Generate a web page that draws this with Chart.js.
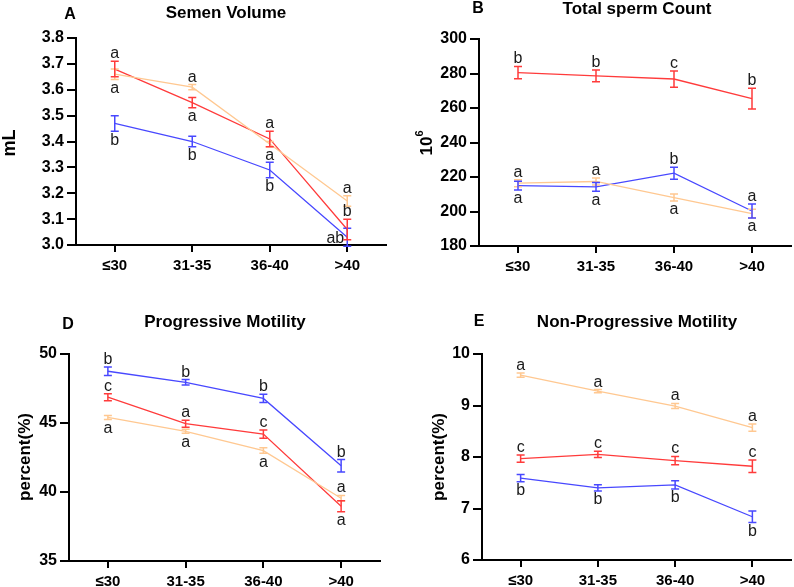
<!DOCTYPE html>
<html>
<head>
<meta charset="utf-8">
<script src="https://cdn.jsdelivr.net/npm/chart.js@4.4.0/dist/chart.umd.min.js"></script>
<style>
  body { margin: 0; background: #fff; }
  #wrap { position: relative; width: 794px; height: 587px; }
  canvas { position: absolute; }
</style>
</head>
<body>
<div id="wrap">
  <canvas id="chartA" width="397" height="293" style="left:0;top:0"></canvas>
  <canvas id="chartB" width="397" height="293" style="left:397px;top:0"></canvas>
  <canvas id="chartD" width="397" height="294" style="left:0;top:293px"></canvas>
  <canvas id="chartE" width="397" height="294" style="left:397px;top:293px"></canvas>
</div>
<script>
// age groups on the x axis
const ageGroups = ['≤30', '31-35', '36-40', '>40'];

// A - semen volume (mL)
const volRed = [3.68, 3.55, 3.41, 3.06];
const volRedErr = [0.03, 0.02, 0.03, 0.04];
const volRedLetters = ['a', 'a', 'a', 'b'];
const volRedPos = ['t', 'b', 't', 't'];
const volOrange = [3.66, 3.61, 3.39, 3.17];
const volOrangeErr = [0.02, 0.01, 0.01, 0.02];
const volOrangeLetters = ['a', 'a', 'a', 'a'];
const volOrangePos = ['b', 't', 'b', 't'];
const volBlue = [3.47, 3.40, 3.29, 3.03];
const volBlueErr = [0.03, 0.02, 0.03, 0.035];
const volBlueLetters = ['b', 'b', 'b', 'ab'];
const volBluePos = ['b', 'b', 'b', 'l'];

// B - total sperm count (10^6)
const cntRed = [280.5, 278.6, 276.8, 265.4];
const cntRedErr = [3.6, 3.4, 4.7, 6];
const cntRedLetters = ['b', 'b', 'c', 'b'];
const cntRedPos = ['t', 't', 't', 't'];
const cntOrange = [216.4, 217.4, 208.1, 198.8];
const cntOrangeErr = [2, 2, 2, 2.5];
const cntOrangeLetters = ['a', 'a', 'a', 'a'];
const cntOrangePos = ['t', 't', 'b', 'b'];
const cntBlue = [215, 214.3, 222.2, 200.3];
const cntBlueErr = [2.5, 2.5, 3.5, 4];
const cntBlueLetters = ['a', 'a', 'b', 'a'];
const cntBluePos = ['b', 'b', 't', 't'];

// D - progressive motility (%)
const progBlue = [48.75, 47.95, 46.78, 41.9];
const progBlueErr = [0.3, 0.2, 0.3, 0.45];
const progBlueLetters = ['b', 'b', 'b', 'b'];
const progBluePos = ['t', 't', 't', 't'];
const progRed = [46.87, 44.95, 44.2, 38.97];
const progRedErr = [0.25, 0.25, 0.3, 0.4];
const progRedLetters = ['c', 'a', 'c', 'a'];
const progRedPos = ['t', 't', 't', 'b'];
const progOrange = [45.4, 44.4, 43.0, 39.55];
const progOrangeErr = [0.15, 0.15, 0.2, 0.2];
const progOrangeLetters = ['a', 'a', 'a', 'a'];
const progOrangePos = ['b', 'b', 'b', 't'];

// E - non-progressive motility (%)
const npOrange = [9.59, 9.28, 8.99, 8.57];
const npOrangeErr = [0.04, 0.03, 0.05, 0.07];
const npOrangeLetters = ['a', 'a', 'a', 'a'];
const npOrangePos = ['t', 't', 't', 't'];
const npRed = [7.97, 8.05, 7.93, 7.82];
const npRedErr = [0.07, 0.06, 0.08, 0.12];
const npRedLetters = ['c', 'c', 'c', 'c'];
const npRedPos = ['t', 't', 't', 't'];
const npBlue = [7.59, 7.40, 7.46, 6.84];
const npBlueErr = [0.07, 0.06, 0.08, 0.11];
const npBlueLetters = ['b', 'b', 'b', 'b'];
const npBluePos = ['b', 'b', 'b', 'b'];

const RED = '#FF3B3B';
const BLUE = '#4848FF';
const ORANGE = '#FFC891';
const FONT = '"Liberation Sans", Arial, Helvetica, sans-serif';

Chart.defaults.font.family = FONT;
Chart.defaults.color = '#000';

// error bars + significance letters
const errorBars = {
  id: 'errorBars',
  afterDatasetsDraw(chart) {
    const ctx = chart.ctx;
    const y = chart.scales.y;
    chart.data.datasets.forEach((ds, i) => {
      const meta = chart.getDatasetMeta(i);
      ctx.save();
      ctx.strokeStyle = ds.borderColor;
      ctx.lineWidth = 1.5;
      meta.data.forEach((pt, j) => {
        const v = ds.data[j], e = ds.errors[j];
        const top = y.getPixelForValue(v + e);
        const bot = y.getPixelForValue(v - e);
        ctx.beginPath();
        ctx.moveTo(pt.x, top); ctx.lineTo(pt.x, bot);
        ctx.moveTo(pt.x - 4, top); ctx.lineTo(pt.x + 4, top);
        ctx.moveTo(pt.x - 4, bot); ctx.lineTo(pt.x + 4, bot);
        ctx.stroke();
      });
      ctx.fillStyle = '#1a1a1a';
      ctx.font = '16px ' + FONT;
      meta.data.forEach((pt, j) => {
        const v = ds.data[j], e = ds.errors[j];
        const txt = ds.letters[j];
        const pos = ds.letterPos[j];
        if (pos === 't') {
          ctx.textAlign = 'center'; ctx.textBaseline = 'alphabetic';
          ctx.fillText(txt, pt.x, y.getPixelForValue(v + e) - 3);
        } else if (pos === 'b') {
          ctx.textAlign = 'center'; ctx.textBaseline = 'top';
          ctx.fillText(txt, pt.x, y.getPixelForValue(v - e) + 1);
        } else {
          ctx.textAlign = 'right'; ctx.textBaseline = 'middle';
          ctx.fillText(txt, pt.x - 3, pt.y + 1);
        }
      });
      ctx.restore();
    });
  }
};

// panel letter, title and y axis title
const panelText = {
  id: 'panelText',
  afterDraw(chart, args, o) {
    const ctx = chart.ctx;
    ctx.save();
    ctx.fillStyle = '#000';
    ctx.textBaseline = 'middle';
    ctx.textAlign = 'center';
    ctx.font = 'bold 16px ' + FONT;
    ctx.fillText(o.letter, o.letterX, o.letterY);
    ctx.font = 'bold 17px ' + FONT;
    ctx.fillText(o.title, o.titleX, o.titleY);
    ctx.translate(o.yTitleX, o.yTitleY);
    ctx.rotate(-Math.PI / 2);
    ctx.font = 'bold ' + (o.yTitleSize || 17) + 'px ' + FONT;
    if (o.yTitleSup) {
      const w1 = ctx.measureText(o.yTitle).width;
      ctx.font = 'bold 11px ' + FONT;
      const w2 = ctx.measureText(o.yTitleSup).width;
      const x0 = -(w1 + w2) / 2;
      ctx.textAlign = 'left';
      ctx.font = 'bold ' + (o.yTitleSize || 17) + 'px ' + FONT;
      ctx.fillText(o.yTitle, x0, 0);
      ctx.font = 'bold 11px ' + FONT;
      ctx.fillText(o.yTitleSup, x0 + w1, -7);
    } else {
      ctx.fillText(o.yTitle, 0, 0);
    }
    ctx.restore();
  }
};

function series(values, errs, letters, pos, color) {
  return {
    data: values,
    errors: errs,
    letters: letters,
    letterPos: pos,
    borderColor: color,
    backgroundColor: color,
    borderWidth: 1.3,
    pointRadius: 0,
    tension: 0
  };
}

function makePanel(id, datasets, area, yCfg, text) {
  const canvas = document.getElementById(id);
  const W = canvas.width, H = canvas.height;
  new Chart(canvas, {
    type: 'line',
    data: { labels: ageGroups, datasets: datasets },
    options: {
      responsive: false,
      animation: false,
      devicePixelRatio: 1,
      layout: { padding: { left: 0, right: W - area.right, top: area.top, bottom: 0 } },
      plugins: {
        legend: { display: false },
        tooltip: { enabled: false },
        panelText: text
      },
      scales: {
        x: {
          type: 'category',
          offset: true,
          grid: { display: true, offset: false, drawOnChartArea: false, tickLength: 7, color: '#000', lineWidth: 2 },
          border: { display: true, color: '#000', width: 2 },
          ticks: { font: { size: 15, weight: 'bold' }, color: '#000', padding: 5, maxRotation: 0 },
          afterFit: s => { s.height = H - area.bottom; }
        },
        y: {
          min: yCfg.min,
          max: yCfg.max,
          grid: { display: true, drawOnChartArea: false, tickLength: 9, color: '#000', lineWidth: 2 },
          border: { display: true, color: '#000', width: 2 },
          ticks: {
            stepSize: yCfg.step,
            font: { size: 16, weight: 'bold' },
            color: '#000',
            padding: 3,
            callback: v => v.toFixed(yCfg.decimals)
          },
          afterFit: s => { s.width = area.left; }
        }
      }
    },
    plugins: [errorBars, panelText]
  });
}

makePanel('chartA', [
  series(volOrange, volOrangeErr, volOrangeLetters, volOrangePos, ORANGE),
  series(volBlue, volBlueErr, volBlueLetters, volBluePos, BLUE),
  series(volRed, volRedErr, volRedLetters, volRedPos, RED)
], { left: 76, right: 386, top: 38, bottom: 245 },
{ min: 3.0, max: 3.8, step: 0.1, decimals: 1 },
{ letter: 'A', letterX: 70, letterY: 15, title: 'Semen Volume', titleX: 226, titleY: 13,
  yTitle: 'mL', yTitleX: 10, yTitleY: 143, yTitleSize: 18 });

makePanel('chartB', [
  series(cntOrange, cntOrangeErr, cntOrangeLetters, cntOrangePos, ORANGE),
  series(cntBlue, cntBlueErr, cntBlueLetters, cntBluePos, BLUE),
  series(cntRed, cntRedErr, cntRedLetters, cntRedPos, RED)
], { left: 82, right: 394, top: 39, bottom: 246 },
{ min: 180, max: 300, step: 20, decimals: 0 },
{ letter: 'B', letterX: 81, letterY: 9, title: 'Total sperm Count', titleX: 240, titleY: 9,
  yTitle: '10', yTitleSup: '6', yTitleX: 30, yTitleY: 143 });

makePanel('chartD', [
  series(progOrange, progOrangeErr, progOrangeLetters, progOrangePos, ORANGE),
  series(progRed, progRedErr, progRedLetters, progRedPos, RED),
  series(progBlue, progBlueErr, progBlueLetters, progBluePos, BLUE)
], { left: 69, right: 380, top: 61, bottom: 268 },
{ min: 35, max: 50, step: 5, decimals: 0 },
{ letter: 'D', letterX: 68, letterY: 32, title: 'Progressive Motility', titleX: 225, titleY: 29,
  yTitle: 'percent(%)', yTitleX: 25, yTitleY: 164 });

makePanel('chartE', [
  series(npOrange, npOrangeErr, npOrangeLetters, npOrangePos, ORANGE),
  series(npRed, npRedErr, npRedLetters, npRedPos, RED),
  series(npBlue, npBlueErr, npBlueLetters, npBluePos, BLUE)
], { left: 85, right: 394, top: 61, bottom: 267 },
{ min: 6, max: 10, step: 1, decimals: 0 },
{ letter: 'E', letterX: 82, letterY: 29, title: 'Non-Progressive Motility', titleX: 240, titleY: 29,
  yTitle: 'percent(%)', yTitleX: 42, yTitleY: 164 });
</script>
</body>
</html>
